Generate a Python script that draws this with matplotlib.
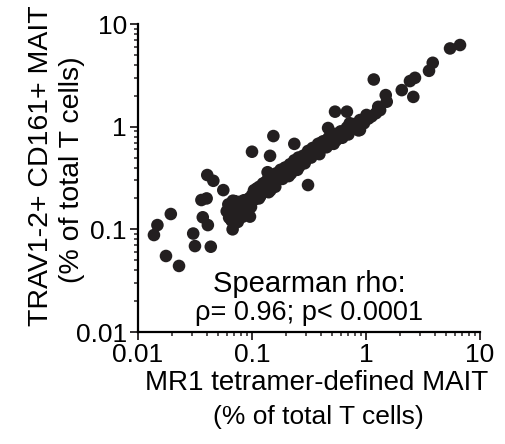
import numpy as np
import matplotlib.pyplot as plt
from matplotlib.ticker import LogLocator, NullFormatter

plt.rcParams['font.family'] = ['Liberation Sans', 'DejaVu Sans']

# outliers and sparse points
x_sparse = [6.68, 5.46, 3.85, 3.57, 2.69, 2.43, 2.06, 2.60, 1.17, 1.49, 1.52, 1.28,
            1.01, 0.885, 0.885, 0.68, 0.535, 0.72, 0.465, 0.397, 0.55, 0.154, 0.10,
            0.144, 0.235, 0.137, 0.0405, 0.0458, 0.056, 0.036, 0.040, 0.0194, 0.0148,
            0.0138, 0.037, 0.041, 0.0305, 0.0316, 0.0435, 0.0176, 0.0229, 0.0676,
            0.096, 0.31]
y_sparse = [6.24, 5.78, 4.19, 3.50, 2.99, 2.78, 2.27, 1.95, 2.88, 2.03, 1.75, 1.56,
            1.30, 1.16, 0.93, 1.40, 1.40, 1.08, 0.97, 0.69, 0.74, 0.81, 0.57,
            0.52, 0.68, 0.36, 0.338, 0.297, 0.241, 0.193, 0.20, 0.141, 0.110,
            0.088, 0.131, 0.110, 0.091, 0.0687, 0.0677, 0.055, 0.044, 0.100,
            0.133, 0.27]

# dense band along the diagonal
x_band = [0.060, 0.062, 0.064, 0.066, 0.068, 0.070, 0.072, 0.074, 0.076, 0.078,
          0.080, 0.083, 0.086, 0.090, 0.094, 0.098, 0.100, 0.104, 0.108, 0.112,
          0.116, 0.120, 0.125, 0.130, 0.136, 0.142, 0.148, 0.155, 0.162, 0.170,
          0.178, 0.186, 0.195, 0.205, 0.215, 0.225, 0.235, 0.245, 0.255, 0.265,
          0.28, 0.295, 0.31, 0.325, 0.34, 0.36, 0.38, 0.40, 0.42, 0.44,
          0.47, 0.50, 0.53, 0.56, 0.60, 0.64, 0.68, 0.73, 0.78, 0.83,
          0.90, 0.96, 1.05, 1.12, 1.22, 1.33,
          0.063, 0.066, 0.071, 0.077, 0.082, 0.085, 0.088, 0.069, 0.075, 0.092,
          0.105, 0.11, 0.118, 0.127, 0.133, 0.145, 0.152, 0.165, 0.175, 0.19,
          0.2, 0.21, 0.23, 0.25, 0.27, 0.29, 0.3, 0.33, 0.35, 0.39,
          0.41, 0.45, 0.49, 0.52, 0.58, 0.62, 0.66, 0.7, 0.76, 0.86,
          0.115, 0.14, 0.16, 0.185, 0.22, 0.26]
y_band = [0.150, 0.175, 0.135, 0.160, 0.190, 0.145, 0.170, 0.125, 0.160, 0.185,
          0.150, 0.170, 0.160, 0.175, 0.200, 0.165, 0.215, 0.240, 0.205, 0.230,
          0.260, 0.220, 0.280, 0.250, 0.300, 0.270, 0.320, 0.290, 0.350, 0.310,
          0.380, 0.340, 0.400, 0.360, 0.430, 0.390, 0.470, 0.420, 0.500, 0.450,
          0.520, 0.480, 0.580, 0.530, 0.620, 0.570, 0.680, 0.620, 0.720, 0.660,
          0.780, 0.720, 0.850, 0.800, 0.900, 0.860, 0.980, 0.940, 1.060, 1.000,
          1.120, 1.080, 1.200, 1.260, 1.350, 1.450,
          0.130, 0.122, 0.188, 0.140, 0.132, 0.192, 0.150, 0.180, 0.118, 0.185,
          0.195, 0.250, 0.210, 0.240, 0.290, 0.240, 0.275, 0.300, 0.330, 0.330,
          0.370, 0.330, 0.410, 0.380, 0.470, 0.440, 0.500, 0.500, 0.560, 0.540,
          0.650, 0.630, 0.700, 0.680, 0.780, 0.780, 0.880, 0.840, 0.950, 0.920,
          0.200, 0.230, 0.260, 0.310, 0.350, 0.410]

xs = x_sparse + x_band
ys = y_sparse + y_band

W, H = 506, 444
fig = plt.figure(figsize=(W / 100, H / 100), dpi=100)
ax = fig.add_axes([138 / W, 1 - 332 / H, (480 - 138) / W, (332 - 24) / H])
ax.scatter(xs, ys, s=82, color='#231f20', edgecolors='none', clip_on=False, zorder=3)

ax.set_xscale('log')
ax.set_yscale('log')
ax.set_xlim(0.01, 10)
ax.set_ylim(0.01, 10)

ticks = [0.01, 0.1, 1, 10]
labels = ['0.01', '0.1', '1', '10']
ax.set_xticks(ticks)
ax.set_xticklabels(labels)
ax.set_yticks(ticks)
ax.set_yticklabels(labels)
ax.xaxis.set_minor_locator(LogLocator(base=10, subs=np.arange(2, 10)))
ax.yaxis.set_minor_locator(LogLocator(base=10, subs=np.arange(2, 10)))
ax.xaxis.set_minor_formatter(NullFormatter())
ax.yaxis.set_minor_formatter(NullFormatter())

ax.spines['top'].set_visible(False)
ax.spines['right'].set_visible(False)
for s in ['left', 'bottom']:
    ax.spines[s].set_linewidth(1.6)
ax.tick_params(which='major', length=6, width=1.3, labelsize=19, pad=2,
               colors='#231f20', labelcolor='black')
ax.tick_params(which='minor', length=3.2, width=1.1, colors='#231f20')

# axis titles
fig.text(317 / W, 1 - 390 / H, 'MR1 tetramer-defined MAIT', ha='center',
         va='baseline', fontsize=20)
fig.text(318 / W, 1 - 424 / H, '(% of total T cells)', ha='center',
         va='baseline', fontsize=19)
fig.text(48 / W, 1 - 166 / H, 'TRAV1-2+ CD161+ MAIT', ha='center',
         va='baseline', rotation=90, rotation_mode='anchor', fontsize=20.5)
fig.text(79 / W, 1 - 170 / H, '(% of total T cells)', ha='center',
         va='baseline', rotation=90, rotation_mode='anchor', fontsize=20.5)

# statistics
fig.text(309 / W, 1 - 292 / H, 'Spearman rho:', ha='center', va='baseline',
         fontsize=21)
fig.text(309 / W, 1 - 320 / H, 'ρ= 0.96; p< 0.0001', ha='center',
         va='baseline', fontsize=19.5)

fig.savefig('out.png', dpi=100)
